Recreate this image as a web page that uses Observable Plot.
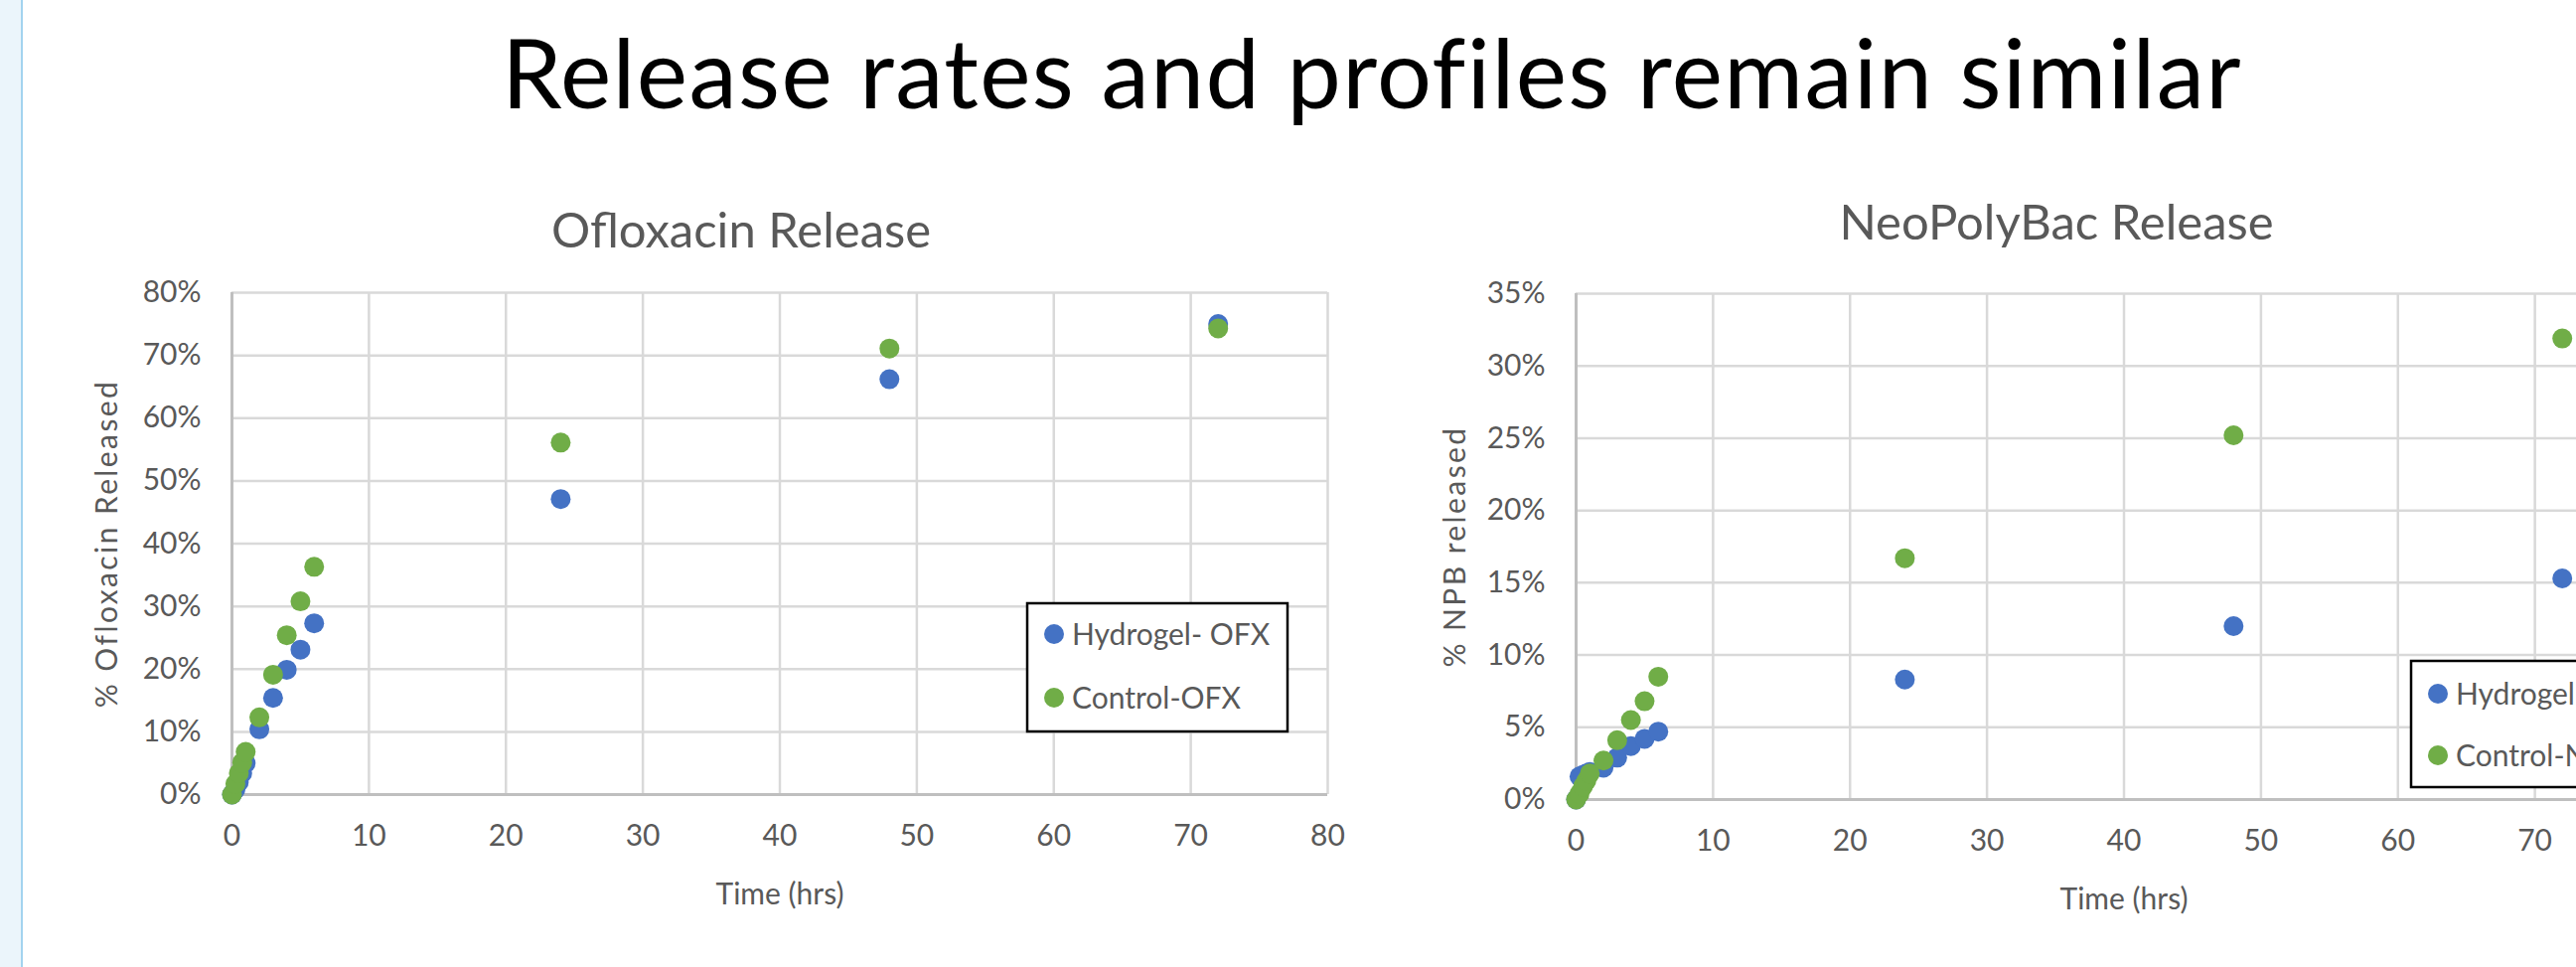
<!DOCTYPE html>
<html><head><meta charset="utf-8">
<script src="https://cdn.jsdelivr.net/npm/d3@7"></script>
<script src="https://cdn.jsdelivr.net/npm/@observablehq/plot@0.6"></script>
<style>
html,body{margin:0;padding:0;overflow:hidden;background:#fff;}
#stage{position:relative;width:2593px;height:973px;overflow:hidden;background:#fff;font-family:Lato,"Open Sans",sans-serif;}
#strip{position:absolute;left:0;top:0;width:21px;height:973px;background:#ebf5fb;border-right:2px solid #a3d3ef;}
#title{position:absolute;left:381px;width:2000px;top:13px;text-align:center;font-size:97px;letter-spacing:1.4px;line-height:normal;color:#000;white-space:nowrap;}
.chart{position:absolute;top:0;width:1400px;height:973px;}
.chart svg{max-width:none !important;}
#overlay{position:absolute;left:0;top:0;}
</style>
</head><body>
<div id="stage">
  <div id="strip"></div>
  <div id="title">Release rates and profiles remain similar</div>
  <div id="c1" class="chart" style="left:0px"></div>
  <div id="c2" class="chart" style="left:1350px"></div>
</div>
<script>
// ---- data ----
const hours = [0, 0.25, 0.5, 0.75, 1, 2, 3, 4, 5, 6, 24, 48, 72];
const ofxHydrogel = [0, 0.8, 2.0, 3.4, 5.0, 10.4, 15.4, 19.9, 23.1, 27.3, 47.1, 66.2, 75.0];
const ofxControl  = [0, 1.7, 3.4, 5.1, 6.8, 12.3, 19.1, 25.4, 30.8, 36.3, 56.1, 71.1, 74.3];
const npbHydrogel = [0, 1.6, 1.7, 1.8, 1.9, 2.2, 2.9, 3.7, 4.2, 4.7, 8.3, 12.0, 15.3];
const npbControl  = [0, 0.4, 0.9, 1.3, 1.8, 2.7, 4.1, 5.5, 6.8, 8.5, 16.7, 25.2, 31.9];
const xTicks = [0, 10, 20, 30, 40, 50, 60, 70, 80];
const ofxYTicks = [0, 10, 20, 30, 40, 50, 60, 70, 80];
const npbYTicks = [0, 5, 10, 15, 20, 25, 30, 35];
const ofxSeries = ["Hydrogel- OFX", "Control-OFX"];
const npbSeries = ["Hydrogel- NPB", "Control-NPB"];
const seriesColors = ["#4472C4", "#70AD47"];

const GRID = "#d9d9d9", AXIS = "#bfbfbf", TXT = "#595959";
const FONT = "Lato, 'Open Sans', sans-serif";

function mk(opts, top, bottom) {
  const svg = Plot.plot({
    width: opts.marginLeft + 1103 + 60,
    height: 973,
    marginLeft: opts.marginLeft, marginRight: 60, marginTop: top, marginBottom: 973 - bottom,
    style: {fontFamily: FONT, fontSize: "30px", color: TXT, background: "transparent", overflow: "visible", maxWidth: "none"},
    x: {domain: [0, 80], ticks: xTicks},
    y: {domain: opts.yDomain, ticks: opts.yTicks},
    marks: [
      Plot.gridX(xTicks, {stroke: GRID, strokeOpacity: 1, strokeWidth: 2.5}),
      Plot.gridY(opts.yTicks, {stroke: GRID, strokeOpacity: 1, strokeWidth: 2.5}),
      Plot.ruleX([0], {stroke: AXIS, strokeWidth: 3}),
      Plot.ruleY([0], {stroke: AXIS, strokeWidth: 3}),
      Plot.axisX(xTicks, {tickSize: 0, tickPadding: 30, label: null, fill: TXT}),
      Plot.axisY(opts.yTicks, {tickSize: 0, tickPadding: 31, label: null, fill: TXT, tickFormat: d => d + "%"}),
      ...opts.values.map((vals, k) => Plot.dot(hours, {x: d => d, y: (d, i) => vals[i], r: 10, fill: seriesColors[k], stroke: "none"})),
      Plot.text([opts.title], {frameAnchor: "top", lineAnchor: "middle", textAnchor: "middle", dx: opts.titleDx, dy: opts.titleDy, fontSize: opts.titleSize, fill: TXT}),
      Plot.text(["Time (hrs)"], {frameAnchor: "bottom", lineAnchor: "middle", textAnchor: "middle", dy: opts.xLabelDy, fontSize: 30, fill: TXT}),
      Plot.text([opts.yLabel], {frameAnchor: "left", lineAnchor: "middle", textAnchor: "middle", dx: opts.yLabelDx, rotate: -90, fontSize: 30, fill: TXT})
    ]
  });
  d3.select(svg).selectAll("text").filter(function() { return this.textContent === opts.yLabel; })
    .style("letter-spacing", opts.yLabelSpacing + "px");
  return svg;
}

const left = mk({marginLeft: 233, yDomain: [0, 80], yTicks: ofxYTicks, values: [ofxHydrogel, ofxControl],
  title: "Ofloxacin Release", yLabel: "% Ofloxacin Released", titleDx: -39, titleDy: -61, titleSize: 49,
  xLabelDy: 101, yLabelDx: -125, yLabelSpacing: 2.4}, 294, 799);
document.getElementById("c1").appendChild(left);

const right = mk({marginLeft: 236, yDomain: [0, 35], yTicks: npbYTicks, values: [npbHydrogel, npbControl],
  title: "NeoPolyBac Release", yLabel: "% NPB released", titleDx: -68, titleDy: -70, titleSize: 49,
  xLabelDy: 101, yLabelDx: -121, yLabelSpacing: 2.4}, 295, 804);
document.getElementById("c2").appendChild(right);

// ---- legends (overlay) ----
const svg = d3.select("#stage").append("svg").attr("id", "overlay")
  .attr("width", 2593).attr("height", 973)
  .style("font-family", FONT);
function legend(x, y, h, rows, names) {
  const g = svg.append("g").attr("transform", `translate(${x},${y})`);
  g.append("rect").attr("width", 262).attr("height", h).attr("fill", "#fff").attr("stroke", "#000").attr("stroke-width", 2.5);
  names.forEach((n, i) => {
    g.append("circle").attr("cx", 27).attr("cy", rows[i]).attr("r", 10).attr("fill", seriesColors[i]);
    g.append("text").attr("x", 45).attr("y", rows[i]).attr("dy", "0.35em").attr("font-size", 30).attr("fill", TXT).text(n);
  });
}
legend(1034, 607, 129, [31, 95], ofxSeries);
legend(2427, 665, 127, [33, 95], npbSeries);
</script>
</body></html>
